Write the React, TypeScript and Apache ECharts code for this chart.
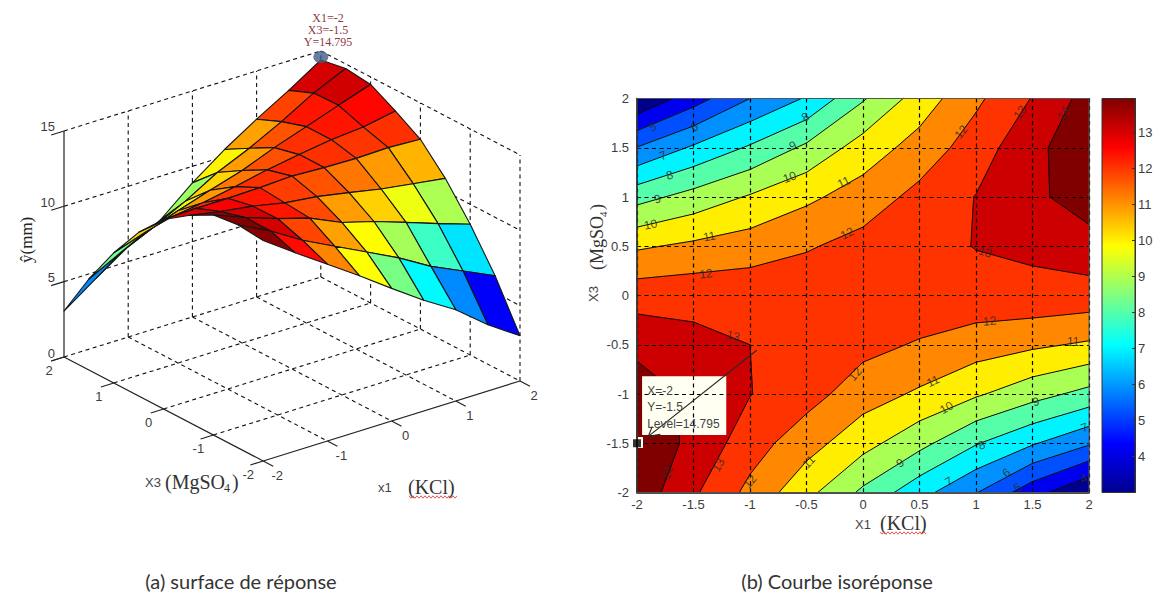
import React, { useEffect, useRef } from "react";
import * as echarts from "echarts";

// Factor levels (coded units)
const x1Values = [-2, -1.5, -1, -0.5, 0, 0.5, 1, 1.5, 2];
const x3Values = [2, 1.5, 1, 0.5, 0, -0.5, -1, -1.5, -2];

// Response, one list per X3 level
const zAtX3p20 = [3.05, 4.55, 6.0, 7.1, 8.9, 10.45, 11.8, 13.05, 14.4];
const zAtX3p15 = [6.04, 7.15, 8.13, 9.2, 10.45, 11.4, 12.5, 13.73, 14.7];
const zAtX3p10 = [8.64, 9.37, 10.1, 10.8, 11.45, 12.3, 13.03, 13.78, 14.5];
const zAtX3p05 = [10.86, 11.2, 11.5, 11.9, 12.35, 12.7, 13.03, 13.2, 13.6];
const zAtX300 = [12.58, 12.65, 12.65, 12.7, 12.8, 12.7, 12.65, 12.7, 12.59];
const zAtX3m05 = [13.7, 13.3, 13.0, 12.55, 12.3, 11.9, 11.48, 11.17, 10.86];
const zAtX3m10 = [14.6, 13.77, 13.03, 12.4, 11.45, 10.85, 10.13, 9.38, 8.68];
const zAtX3m15 = [14.795, 13.74, 12.46, 11.4, 10.35, 9.3, 8.07, 7.1, 6.12];
const zAtX3m20 = [14.63, 13.15, 11.73, 10.3, 8.8, 7.35, 6.05, 4.4, 3.0];
const zRows = [zAtX3p20, zAtX3p15, zAtX3p10, zAtX3p05, zAtX300, zAtX3m05, zAtX3m10, zAtX3m15, zAtX3m20];

const contourLevels = [4, 5, 6, 7, 8, 9, 10, 11, 12, 13, 14];
const bandColors = ["#00008c", "#0000f0", "#0050ff", "#0090ff", "#00f4ff", "#55ffaa", "#aaff55", "#ffee00", "#ff8800", "#ff3300", "#cc0000", "#800000"];
const jetStops = [[0, "#00008f"], [0.125, "#0000ff"], [0.375, "#00ffff"], [0.625, "#ffff00"], [0.875, "#ff0000"], [1, "#800000"]];

const axisTicks3d = [-2, -1, 0, 1, 2];
const zTicks3d = [0, 5, 10, 15];
const colorbarRange = [3, 13.95];
const peakTip = ["X=-2", "Y=-1.5", "Level=14.795"];
const peakNote = ["X1=-2", "X3=-1.5", "Y=14.795"];

// label text, x1, x3, rotation in degrees
const contourLabels: [string, number, number, number][] = [
  ["5", -1.86, 1.71, 25], ["6", -1.49, 1.71, 25], ["7", -1.77, 1.42, 20], ["8", -1.71, 1.22, 15],
  ["9", -1.82, 0.98, 15], ["10", -1.88, 0.72, 10], ["11", -1.36, 0.6, 10], ["12", -1.39, 0.22, 5],
  ["10", -0.65, 1.2, 20], ["9", -0.62, 1.52, 25], ["8", -0.51, 1.81, 30], ["11", -0.17, 1.15, 25],
  ["12", -0.14, 0.63, 25], ["12", 0.87, 1.66, 50], ["13", 1.39, 1.86, 55], ["14", 1.77, 1.85, 60],
  ["13", 1.08, 0.44, -15], ["13", -1.15, -0.41, -15], ["12", -0.07, -0.8, 50], ["13", -1.28, -1.72, 60],
  ["14", -1.73, -1.8, 65], ["12", -1.0, -1.89, 50], ["11", -0.48, -1.69, 45], ["12", 1.12, -0.26, 5],
  ["11", 1.86, -0.47, 0], ["11", 0.62, -0.87, 25], ["10", 0.74, -1.14, 30], ["9", 1.53, -1.08, 15],
  ["9", 0.33, -1.7, 35], ["8", 1.05, -1.52, 25], ["7", 0.76, -1.89, 30], ["7", 1.96, -1.34, 20],
  ["6", 1.27, -1.8, 35], ["5", 1.37, -1.95, 35], ["4", 1.95, -1.86, 30],
];

const SANS = '"Liberation Sans", Arial, sans-serif';
const SERIF = '"Liberation Serif", serif';
const TICK = "#3c3c3c";

// oblique projection of the 3-D box onto the page axes
function project(x1: number, x3: number, z: number): [number, number] {
  const u = (x1 + 2) / 0.5;
  const v = (2 - x3) / 0.5;
  return [64 + 32.1 * u + 24.9 * v, 357 - 10 * u + 13 * v - 15.07 * z];
}

function hexToRgb(h: string) {
  return [parseInt(h.slice(1, 3), 16), parseInt(h.slice(3, 5), 16), parseInt(h.slice(5, 7), 16)];
}
function jet(t: number) {
  const c = Math.max(0, Math.min(1, t));
  for (let i = 1; i < jetStops.length; i++) {
    const [p1, col1] = jetStops[i] as [number, string];
    const [p0, col0] = jetStops[i - 1] as [number, string];
    if (c <= p1) {
      const f = (c - p0) / (p1 - p0);
      const a = hexToRgb(col0);
      const b = hexToRgb(col1);
      return `rgb(${a.map((v, k) => Math.round(v + (b[k] - v) * f)).join(",")})`;
    }
  }
  return "#800000";
}

// ---- contour geometry from the grid ----
type P3 = [number, number, number];
function cellCorners(r: number, c: number): P3[] {
  return [
    [x1Values[c], x3Values[r], zRows[r][c]],
    [x1Values[c + 1], x3Values[r], zRows[r][c + 1]],
    [x1Values[c + 1], x3Values[r + 1], zRows[r + 1][c + 1]],
    [x1Values[c], x3Values[r + 1], zRows[r + 1][c]],
  ];
}
function cross(a: P3, b: P3, L: number): P3 {
  const f = (L - a[2]) / (b[2] - a[2]);
  return [a[0] + (b[0] - a[0]) * f, a[1] + (b[1] - a[1]) * f, L];
}
const bandPolys: { pts: P3[]; color: string }[] = [];
const contourSegs: [number, number, number, number][] = [];
[-Infinity, ...contourLevels].forEach((L, li) => {
  for (let r = 0; r < 8; r++) {
    for (let c = 0; c < 8; c++) {
      const q = cellCorners(r, c);
      const out: P3[] = [];
      const hits: P3[] = [];
      q.forEach((a, i) => {
        const b = q[(i + 1) % 4];
        if (a[2] >= L) out.push(a);
        if (a[2] >= L !== b[2] >= L) {
          const p = cross(a, b, L);
          out.push(p);
          hits.push(p);
        }
      });
      if (out.length > 2) bandPolys.push({ pts: out, color: bandColors[li] });
      for (let k = 0; k + 1 < hits.length; k += 2) {
        contourSegs.push([hits[k][0], hits[k][1], hits[k + 1][0], hits[k + 1][1]]);
      }
    }
  }
});

// ---- surface cells, far to near ----
const surfaceCells: { pts: [number, number][]; color: string }[] = [];
for (let c = 7; c >= 0; c--) {
  for (let r = 0; r < 8; r++) {
    // flat shading: colour comes from the low X1 / low X3 vertex
    const zc = zRows[r + 1][c];
    surfaceCells.push({
      pts: cellCorners(r, c).map((p) => project(p[0], p[1], p[2])),
      color: jet((zc - 3) / (14.72 - 3)),
    });
  }
}

// ---- box lines ----
type Seg = { a: [number, number]; b: [number, number]; solid: boolean };
const boxSegs: Seg[] = [];
const seg = (a: P3, b: P3, solid = false) =>
  boxSegs.push({ a: project(a[0], a[1], a[2]), b: project(b[0], b[1], b[2]), solid });
zTicks3d.forEach((z) => {
  seg([-2, 2, z], [2, 2, z]);
  seg([2, 2, z], [2, -2, z]);
});
axisTicks3d.forEach((t) => {
  if (t > -2) seg([t, 2, 0], [t, 2, 15]);
  if (t < 2) seg([2, t, 0], [2, t, 15]);
  if (t > -2 && t < 2) {
    seg([t, 2, 0], [t, -2, 0]);
    seg([-2, t, 0], [2, t, 0]);
  }
  seg([-2, t, 0], [-2.2, t, 0], true);
  seg([t, -2, 0], [t, -2.2, 0], true);
});
zTicks3d.forEach((z) => seg([-2, 2, z], [-2.2, 2, z], true));
seg([-2, 2, 0], [-2, 2, 15], true);
seg([-2, 2, 0], [-2, -2, 0], true);
seg([-2, -2, 0], [2, -2, 0], true);

// ---- tick labels of the 3-D box ----
const box3dLabels: { text: string; p: [number, number]; align: string }[] = [
  ...zTicks3d.map((z) => {
    const p = project(-2, 2, z);
    return { text: String(z), p: [p[0] - 9, p[1] - 4] as [number, number], align: "right" };
  }),
  ...axisTicks3d.map((t) => {
    const p = project(-2, t, 0);
    return { text: String(t), p: [p[0] - 15, p[1] + 13] as [number, number], align: "center" };
  }),
  ...axisTicks3d.map((t) => {
    const p = project(t, -2, 0);
    return { text: String(t), p: [p[0] + 14, p[1] + 14.5] as [number, number], align: "center" };
  }),
];

const txt = (text: string, x: number, y: number, font: string, fill = "#333", align = "left") => ({
  type: "text",
  x,
  y,
  z: 100,
  silent: true,
  style: { text, x: 0, y: 0, font, fill, align, verticalAlign: "middle" },
});
const squiggle = (x0: number, x1: number, y: number) => {
  const pts: number[][] = [];
  for (let x = x0, k = 0; x <= x1; x += 2, k++) pts.push([x, y + (k % 2 ? 1.2 : -1.2)]);
  return { type: "polyline", z: 100, silent: true, shape: { points: pts }, style: { stroke: "#d8484c", lineWidth: 0.9, fill: "none" } };
};

function buildOption() {
  const FULL = { xAxisIndex: 0, yAxisIndex: 0, coordinateSystem: "cartesian2d" };
  const CONT = { xAxisIndex: 1, yAxisIndex: 1, coordinateSystem: "cartesian2d" };
  const BAR = { xAxisIndex: 2, yAxisIndex: 2, coordinateSystem: "cartesian2d" };
  const peakPos = project(2, 2, 14.6);
  const tickLabel = { color: TICK, fontFamily: SANS, fontSize: 13 };
  return {
    animation: false,
    backgroundColor: "#ffffff",
    grid: [
      { left: 0, top: 0, width: 1160, height: 592 },
      { left: 637, top: 98.5, width: 452, height: 394 },
      { left: 1102, top: 98.5, width: 33, height: 394 },
    ],
    xAxis: [
      { type: "value", gridIndex: 0, min: 0, max: 1160, show: false },
      {
        type: "value", gridIndex: 1, min: -2, max: 2, interval: 0.5, z: 4,
        axisLine: { show: true, onZero: false, lineStyle: { color: "#111", width: 1.5 } },
        axisTick: { show: true, inside: true, length: 4, lineStyle: { color: "#111" } },
        axisLabel: { ...tickLabel, margin: 5, showMinLabel: true, showMaxLabel: true },
        splitLine: { show: true, lineStyle: { color: "#000", type: [4, 3.5], width: 1.2 } },
      },
      { type: "value", gridIndex: 2, min: 0, max: 1, show: false },
    ],
    yAxis: [
      { type: "value", gridIndex: 0, min: 0, max: 592, inverse: true, show: false },
      {
        type: "value", gridIndex: 1, min: -2, max: 2, interval: 0.5, z: 4,
        axisLine: { show: true, onZero: false, lineStyle: { color: "#111", width: 1.5 } },
        axisTick: { show: true, inside: true, length: 4, lineStyle: { color: "#111" } },
        axisLabel: { ...tickLabel, margin: 8 },
        splitLine: { show: true, lineStyle: { color: "#000", type: [4, 3.5], width: 1.2 } },
      },
      {
        type: "value", gridIndex: 2, position: "right", min: colorbarRange[0], max: colorbarRange[1], interval: 1, z: 4,
        axisLine: { show: true, onZero: false, lineStyle: { color: "#333" } },
        axisTick: { show: true, inside: true, length: 3, lineStyle: { color: "#333" } },
        axisLabel: { ...tickLabel, margin: 3, showMinLabel: false, showMaxLabel: false },
        splitLine: { show: false },
      },
    ],
    series: [
      {
        type: "custom", ...FULL, z: 2, name: "box",
        data: boxSegs.map((s) => [s.a[0], s.a[1]]),
        encode: { x: 0, y: 1 },
        renderItem: (p: any, api: any) => {
          const s = boxSegs[p.dataIndex];
          const a = api.coord(s.a);
          const b = api.coord(s.b);
          return {
            type: "line",
            shape: { x1: a[0], y1: a[1], x2: b[0], y2: b[1] },
            style: s.solid
              ? { stroke: "#222", lineWidth: 1.2 }
              : { stroke: "#111", lineWidth: 1.1, lineDash: [4, 3.5] },
          };
        },
      },
      {
        type: "custom", ...FULL, z: 3, name: "surface",
        data: surfaceCells.map((s) => s.pts[0]),
        encode: { x: 0, y: 1 },
        renderItem: (p: any, api: any) => {
          const s = surfaceCells[p.dataIndex];
          return {
            type: "polygon",
            z2: p.dataIndex,
            shape: { points: s.pts.map((q) => api.coord(q)) },
            style: { fill: s.color, stroke: "#151515", lineWidth: 1.1, lineJoin: "round" },
          };
        },
      },
      {
        type: "scatter", ...FULL, z: 4, name: "peak", symbol: "circle", symbolSize: [15, 12], silent: true,
        itemStyle: { color: "#3e5f86" },
        data: [peakPos],
      },
      {
        type: "custom", ...FULL, z: 5, name: "box labels",
        data: box3dLabels.map((l) => l.p),
        encode: { x: 0, y: 1 },
        renderItem: (p: any, api: any) => {
          const l = box3dLabels[p.dataIndex];
          const q = api.coord(l.p);
          return {
            type: "text", x: q[0], y: q[1],
            style: { text: l.text, font: `13px ${SANS}`, fill: TICK, align: l.align, verticalAlign: "middle" },
          };
        },
      },
      {
        type: "custom", ...CONT, z: 2, name: "bands",
        data: bandPolys.map((b) => [b.pts[0][0], b.pts[0][1]]),
        encode: { x: 0, y: 1 },
        renderItem: (p: any, api: any) => {
          const b = bandPolys[p.dataIndex];
          return {
            type: "polygon",
            z2: p.dataIndex,
            shape: { points: b.pts.map((q) => api.coord([q[0], q[1]])) },
            style: { fill: b.color, stroke: b.color, lineWidth: 0.6 },
          };
        },
      },
      {
        type: "custom", ...CONT, z: 3, name: "contour lines",
        data: contourSegs.map((s) => [s[0], s[1]]),
        encode: { x: 0, y: 1 },
        renderItem: (p: any, api: any) => {
          const s = contourSegs[p.dataIndex];
          const a = api.coord([s[0], s[1]]);
          const b = api.coord([s[2], s[3]]);
          return {
            type: "line",
            shape: { x1: a[0], y1: a[1], x2: b[0], y2: b[1] },
            style: { stroke: "#0a0a0a", lineWidth: 1, lineCap: "round" },
          };
        },
      },
      {
        type: "custom", ...CONT, z: 3.5, name: "tip box",
        data: [[-1.955, -0.82, -1.21, -1.415]],
        encode: { x: 0, y: 1 },
        renderItem: (_p: any, api: any) => {
          const a = api.coord([api.value(0), api.value(1)]);
          const b = api.coord([api.value(2), api.value(3)]);
          return {
            type: "rect",
            shape: { x: a[0], y: a[1], width: b[0] - a[0], height: b[1] - a[1] },
            style: { fill: "#fffff2" },
          };
        },
      },
      {
        type: "custom", ...CONT, z: 5, name: "contour labels",
        data: contourLabels.map((l) => [l[1], l[2]]),
        encode: { x: 0, y: 1 },
        renderItem: (p: any, api: any) => {
          const l = contourLabels[p.dataIndex];
          const q = api.coord([l[1], l[2]]);
          return {
            type: "text", x: q[0], y: q[1], rotation: (l[3] * Math.PI) / 180,
            style: { text: l[0], font: `12px ${SANS}`, fill: "rgba(45,45,45,0.85)", align: "center", verticalAlign: "middle" },
          };
        },
      },
      {
        type: "custom", ...CONT, z: 6, name: "tip arrow",
        data: [[-0.94, -0.555, -1.9, -1.43]],
        encode: { x: 0, y: 1 },
        renderItem: (_p: any, api: any) => {
          const a = api.coord([api.value(0), api.value(1)]);
          const b = api.coord([api.value(2), api.value(3)]);
          const st = { stroke: "#2a2a2a", lineWidth: 1.2 };
          return {
            type: "group",
            children: [
              { type: "line", shape: { x1: a[0], y1: a[1], x2: b[0], y2: b[1] }, style: st },
              { type: "line", shape: { x1: b[0], y1: b[1], x2: b[0] + 12, y2: b[1] - 2 }, style: st },
              { type: "line", shape: { x1: b[0], y1: b[1], x2: b[0] + 4, y2: b[1] - 10 }, style: st },
            ],
          };
        },
      },
      {
        type: "custom", ...CONT, z: 6, name: "tip text",
        data: peakTip.map((_t, i) => [-1.91, -0.97 - i * 0.165]),
        encode: { x: 0, y: 1 },
        renderItem: (p: any, api: any) => {
          const q = api.coord([api.value(0), api.value(1)]);
          return {
            type: "text", x: q[0], y: q[1],
            style: { text: peakTip[p.dataIndex], font: `12px ${SANS}`, fill: "#444", align: "left", verticalAlign: "middle" },
          };
        },
      },
      {
        type: "scatter", ...CONT, z: 7, name: "tip marker", symbol: "rect", symbolSize: 8, silent: true, clip: false,
        itemStyle: { color: "#000" },
        data: [[-2, -1.5]],
      },
      {
        type: "custom", ...BAR, z: 2, name: "colour bar",
        data: [[0, colorbarRange[1], 1, colorbarRange[0]]],
        encode: { x: 0, y: 1 },
        renderItem: (_p: any, api: any) => {
          const a = api.coord([api.value(0), api.value(1)]);
          const b = api.coord([api.value(2), api.value(3)]);
          return {
            type: "rect",
            shape: { x: a[0], y: a[1], width: b[0] - a[0], height: b[1] - a[1] },
            style: {
              fill: new echarts.graphic.LinearGradient(0, 1, 0, 0, jetStops.map(([offset, color]) => ({ offset, color })) as any),
              stroke: "#333",
              lineWidth: 1,
            },
          };
        },
      },
    ],
    graphic: [
      // frame of the contour plot
      { type: "rect", z: 4.5, silent: true, shape: { x: 637, y: 98.5, width: 452, height: 394 }, style: { fill: "none", stroke: "#555", lineWidth: 1 } },
      { type: "rect", z: 6.5, silent: true, shape: { x: 638, y: 437, width: 5, height: 11 }, style: { fill: "#fffff2" } },
      // left panel notes
      ...peakNote.map((t, i) => txt(t, 328, 17.5 + i * 12, `12px ${SERIF}`, "#8c3a3c", "center")),
      {
        type: "text", x: 26, y: 263, rotation: Math.PI / 2, z: 100, silent: true,
        style: { text: "ŷ(mm)", font: `17px ${SERIF}`, fill: "#222", align: "left", verticalAlign: "middle" },
      },
      txt("X3", 145, 482, `13px ${SANS}`, "#444"),
      txt("(MgSO", 165, 482, `20px ${SERIF}`, "#333"),
      txt("4", 224, 488, `12px ${SERIF}`, "#333"),
      txt(")", 232, 482, `20px ${SERIF}`, "#333"),
      txt("x1", 378, 487, `13px ${SANS}`, "#444"),
      txt("(KCl)", 408, 487, `20px ${SERIF}`, "#333"),
      squiggle(409, 457, 497),
      // right panel notes
      txt("X1", 855, 524, `13px ${SANS}`, "#444"),
      txt("(KCl)", 880, 523, `20px ${SERIF}`, "#333"),
      squiggle(880, 927, 533),
      {
        type: "group", x: 597, y: 302, rotation: Math.PI / 2, silent: true, z: 100,
        children: [
          { type: "text", x: 0, y: -4, z: 100, style: { text: "X3", font: `13px ${SANS}`, fill: "#444", align: "left", verticalAlign: "middle" } },
          { type: "text", x: 32, y: 0, z: 100, style: { text: "(MgSO", font: `18px ${SERIF}`, fill: "#333", align: "left", verticalAlign: "middle" } },
          { type: "text", x: 85, y: 6, z: 100, style: { text: "4", font: `11px ${SERIF}`, fill: "#333", align: "left", verticalAlign: "middle" } },
          { type: "text", x: 92, y: 0, z: 100, style: { text: ")", font: `18px ${SERIF}`, fill: "#333", align: "left", verticalAlign: "middle" } },
        ],
      },
      // captions
      txt("(a) surface de réponse", 241, 581, `20px Lato, sans-serif`, "#333", "center"),
      txt("(b) Courbe isoréponse", 837, 581, `20px Lato, sans-serif`, "#333", "center"),
    ],
  };
}

export default function App() {
  const ref = useRef<HTMLDivElement>(null);
  useEffect(() => {
    const chart = echarts.init(ref.current!, undefined, { renderer: "svg" });
    chart.setOption(buildOption() as any);
    return () => chart.dispose();
  }, []);
  return <div ref={ref} style={{ position: "absolute", left: 0, top: 0, width: 1160, height: 592 }} />;
}
